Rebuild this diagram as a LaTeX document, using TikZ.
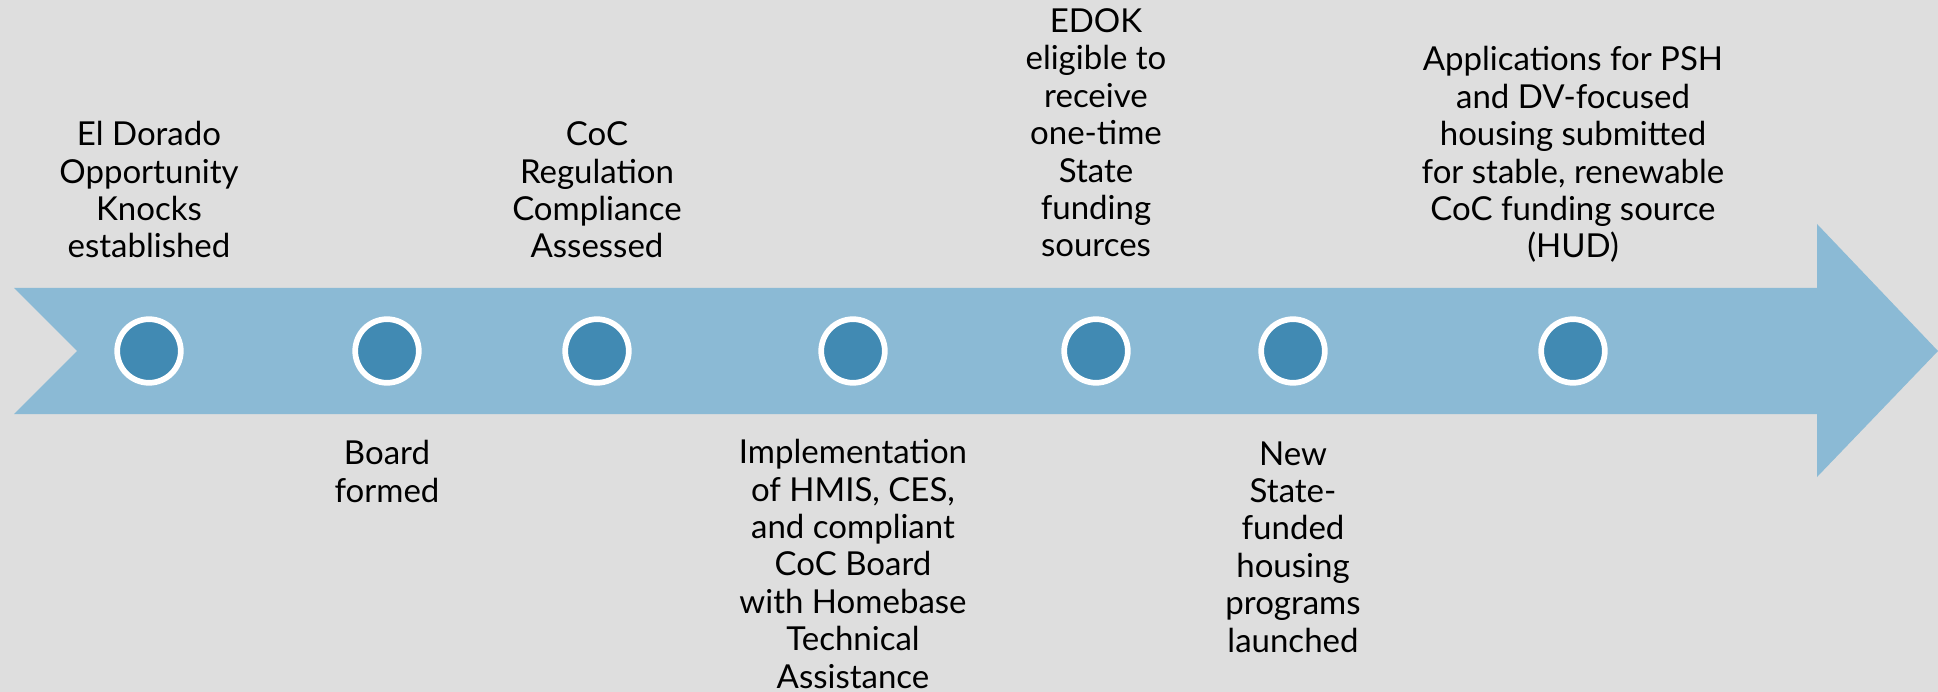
\documentclass[tikz,border=0pt]{standalone}
\usepackage{fontspec}
\setmainfont{Lato}
\definecolor{bg}{HTML}{DEDEDE}
\definecolor{shaft}{HTML}{8BBAD5}
\definecolor{dotblue}{HTML}{418AB3}
\begin{document}
\begin{tikzpicture}[x=1pt,y=-1pt,
  dot/.style={circle,draw=white,line width=5.7pt,fill=dotblue,minimum size=63.6pt,inner sep=0pt},
  lbl/.style={align=center,anchor=base,inner sep=0pt,font=\fontsize{33}{37.4}\selectfont,text=black}]
\fill[bg] (0,0) rectangle (1938,692);
\useasboundingbox (0,0) rectangle (1938,692);
\fill[shaft] (14,288) -- (1817,288) -- (1817,224) -- (1938,351) -- (1817,477) -- (1817,414) -- (14,414) -- (77,351) -- cycle;
\node[dot] (c1) at (149,351) {};
\node[dot] (c2) at (387,351) {};
\node[dot] (c3) at (597,351) {};
\node[dot] (c4) at (853,351) {};
\node[dot] (c5) at (1096,351) {};
\node[dot] (c6) at (1293,351) {};
\node[dot] (c7) at (1573,351) {};
\node[lbl] (t1) at (149,258) {El Dorado\\Opportunity\\Knocks\\established};
\node[lbl] (t2) at (387,502) {Board\\formed};
\node[lbl] (t3) at (597,258) {CoC\\Regulation\\Compliance\\Assessed};
\node[lbl] (t4) at (853,688) {Implementation\\of HMIS, CES,\\and compliant\\CoC Board\\with Homebase\\Technical\\Assistance};
\node[lbl] (t5) at (1096,257) {EDOK\\eligible to\\receive\\one-time\\State\\funding\\sources};
\node[lbl] (t6) at (1293,652) {New\\State-\\funded\\housing\\programs\\launched};
\node[lbl] (t7) at (1573,258) {Applications for PSH\\and DV-focused\\housing submitted\\for stable, renewable\\CoC funding source\\(HUD)};
\end{tikzpicture}
\end{document}
